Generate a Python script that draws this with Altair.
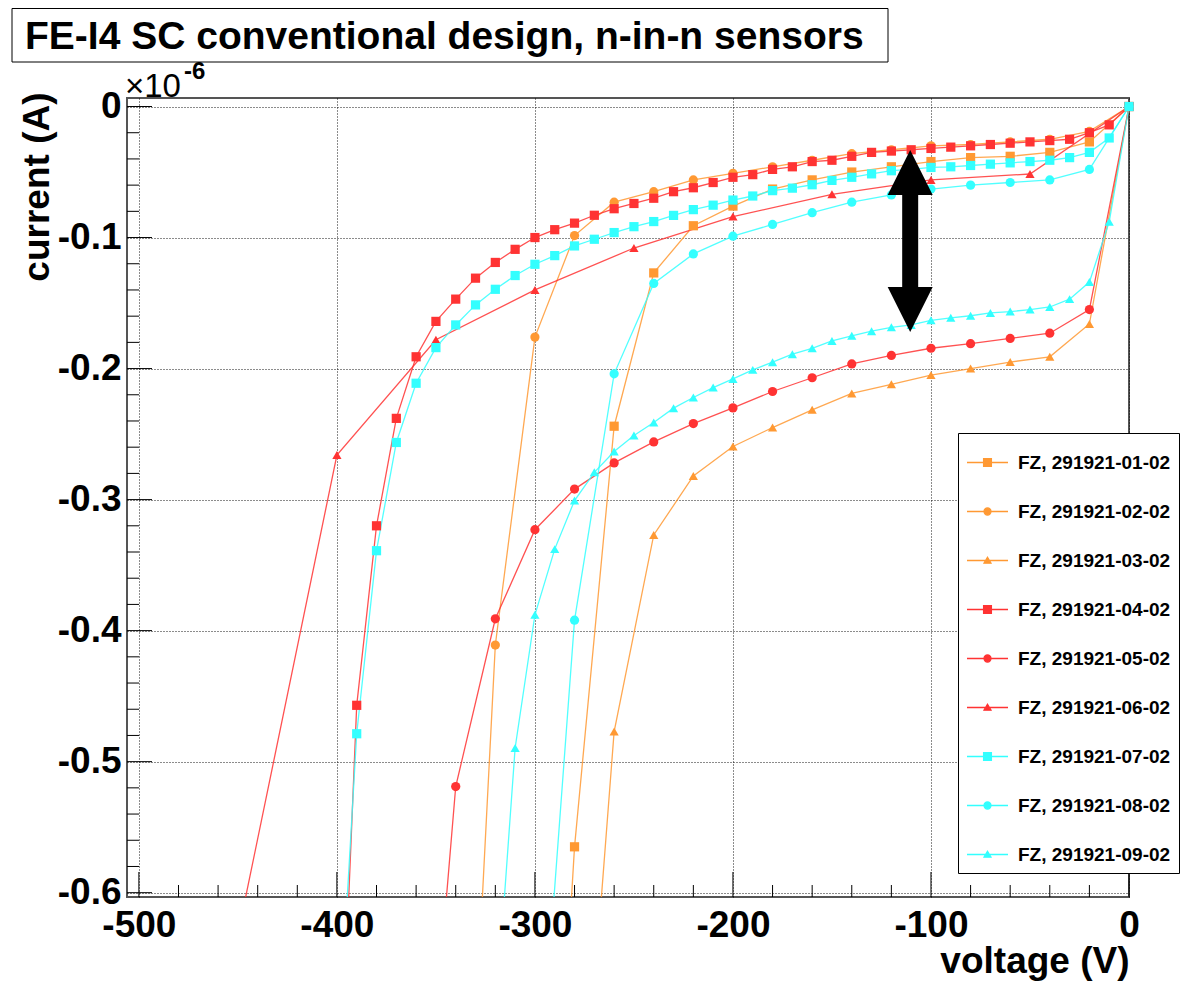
import altair as alt
import pandas as pd

# ---------------- data (voltage in V, current in 1e-6 A) ----------------
labels = ["FZ, 291921-01-02", "FZ, 291921-02-02", "FZ, 291921-03-02",
          "FZ, 291921-04-02", "FZ, 291921-05-02", "FZ, 291921-06-02",
          "FZ, 291921-07-02", "FZ, 291921-08-02", "FZ, 291921-09-02"]

v01 = [0, -20, -40, -60, -80, -100, -120, -140, -160, -180, -200, -220, -240, -260, -280, -300]
i01 = [0, -0.027, -0.035, -0.038, -0.039, -0.042, -0.046, -0.050, -0.056, -0.063, -0.076, -0.091,
       -0.127, -0.244, -0.565, -1.07]

v02 = [0, -20, -40, -60, -80, -100, -120, -140, -160, -180, -200, -220, -240, -260, -280, -300,
       -320, -340]
i02 = [0, -0.019, -0.025, -0.027, -0.029, -0.030, -0.033, -0.036, -0.041, -0.046, -0.051, -0.056,
       -0.065, -0.073, -0.0985, -0.176, -0.411, -1.0]

v03 = [0, -20, -40, -60, -80, -100, -120, -140, -160, -180, -200, -220, -240, -260, -280]
i03 = [0, -0.166, -0.191, -0.195, -0.200, -0.205, -0.212, -0.219, -0.2315, -0.245, -0.2595, -0.282,
       -0.327, -0.477, -0.87]

v04 = [0, -10, -20, -30, -40, -50, -60, -70, -80, -90, -100, -110, -120, -130, -140, -150, -160,
       -170, -180, -190, -200, -210, -220, -230, -240, -250, -260, -270, -280, -290, -300, -310,
       -320, -330, -340, -350, -360, -370, -380, -390, -400]
i04 = [0, -0.014, -0.020, -0.025, -0.026, -0.027, -0.028, -0.029, -0.030, -0.031, -0.032, -0.033,
       -0.034, -0.035, -0.038, -0.041, -0.042, -0.046, -0.048, -0.052, -0.054, -0.058, -0.062,
       -0.065, -0.070, -0.074, -0.078, -0.083, -0.089, -0.094, -0.100, -0.109, -0.119, -0.131,
       -0.147, -0.164, -0.191, -0.238, -0.320, -0.457, -0.82]

v05 = [0, -20, -40, -60, -80, -100, -120, -140, -160, -180, -200, -220, -240, -260, -280, -300,
       -320, -340, -360]
i05 = [0, -0.155, -0.173, -0.177, -0.181, -0.1845, -0.190, -0.1965, -0.207, -0.2175, -0.230, -0.242,
       -0.256, -0.272, -0.292, -0.323, -0.391, -0.519, -0.88]

v06 = [0, -50, -100, -150, -200, -250, -300, -350, -400, -450]
i06 = [0, -0.0515, -0.056, -0.067, -0.084, -0.108, -0.140, -0.178, -0.266, -0.632]

v07 = [0, -10, -20, -30, -40, -50, -60, -70, -80, -90, -100, -110, -120, -130, -140, -150, -160,
       -170, -180, -190, -200, -210, -220, -230, -240, -250, -260, -270, -280, -290, -300, -310,
       -320, -330, -340, -350, -360, -370, -380, -390, -400]
i07 = [0, -0.024, -0.035, -0.039, -0.041, -0.042, -0.043, -0.044, -0.045, -0.046, -0.0465, -0.048,
       -0.049, -0.0514, -0.054, -0.0564, -0.0597, -0.0623, -0.0642, -0.0683, -0.0714, -0.0753,
       -0.0787, -0.0831, -0.0878, -0.0917, -0.0962, -0.1013, -0.1064, -0.1138, -0.1204, -0.129,
       -0.1395, -0.1514, -0.1667, -0.184, -0.2112, -0.2564, -0.339, -0.4787, -0.74]

v08 = [0, -20, -40, -60, -80, -100, -120, -140, -160, -180, -200, -220, -240, -260, -280, -300]
i08 = [0, -0.048, -0.056, -0.058, -0.060, -0.063, -0.0675, -0.073, -0.081, -0.090, -0.099, -0.1125,
       -0.135, -0.204, -0.392, -0.80]

v09 = [0, -10, -20, -30, -40, -50, -60, -70, -80, -90, -100, -110, -120, -130, -140, -150, -160,
       -170, -180, -190, -200, -210, -220, -230, -240, -250, -260, -270, -280, -290, -300, -310, -320]
i09 = [0, -0.088, -0.134, -0.147, -0.153, -0.155, -0.1565, -0.1575, -0.1597, -0.1613, -0.1632,
       -0.1667, -0.1685, -0.1715, -0.175, -0.1789, -0.1845, -0.189, -0.1951, -0.201, -0.2079,
       -0.2145, -0.2221, -0.2302, -0.2412, -0.2511, -0.2633, -0.2792, -0.3007, -0.3378, -0.3879,
       -0.4896, -0.70]

# annotation arrow (voltage, current of the two heads)
arrow_v = [-110.5]
arrow_top = [-0.0504]
arrow_bottom = [-0.1549]

x_major = [-500, -400, -300, -200, -100, 0]
y_major = [-0.6, -0.5, -0.4, -0.3, -0.2, -0.1, 0]
x_minor = [-480, -460, -440, -420, -380, -360, -340, -320, -280, -260, -240, -220,
           -180, -160, -140, -120, -80, -60, -40, -20]
y_minor = [-0.58, -0.56, -0.54, -0.52, -0.48, -0.46, -0.44, -0.42, -0.38, -0.36, -0.34, -0.32,
           -0.28, -0.26, -0.24, -0.22, -0.18, -0.16, -0.14, -0.12, -0.08, -0.06, -0.04, -0.02]

title_text = "FE-I4 SC conventional design, n-in-n sensors"

# ---------------- styles ----------------
ORANGE, RED, CYAN = "#ff9933", "#ff3333", "#33ffff"
colors = [ORANGE] * 3 + [RED] * 3 + [CYAN] * 3
shapes = ["square", "circle", "triangle-up"] * 3
leg_sq = "M-1,0H1M-0.19,-0.19H0.19V0.19H-0.19Z"
leg_ci = "M-1,0H1M-0.17,0A0.17,0.17,0,1,0,0.17,0A0.17,0.17,0,1,0,-0.17,0Z"
leg_tr = "M-1,0H1M0,-0.16L0.17,0.13L-0.17,0.13Z"
leg_shapes = [leg_sq, leg_ci, leg_tr] * 3
FONT = "Liberation Sans"

W, H = 1002, 799
XMIN, XMAX = -506, 0
YMIN, YMAX = -0.6033, 0.0065

series_x = [v01, v02, v03, v04, v05, v06, v07, v08, v09]
series_y = [i01, i02, i03, i04, i05, i06, i07, i08, i09]
rows = []
for k, (vs, cs) in enumerate(zip(series_x, series_y)):
    assert len(vs) == len(cs), labels[k]
    for j, (v, c) in enumerate(zip(vs, cs)):
        rows.append({"series": labels[k], "V": v, "I": c, "idx": j, "sid": k})
df = pd.DataFrame(rows)

xs = alt.Scale(domain=[XMIN, XMAX], nice=False, zero=False)
ys = alt.Scale(domain=[YMIN, YMAX], nice=False, zero=False)
cscale = alt.Scale(domain=labels, range=colors)

x_axis = alt.Axis(values=x_major, title="voltage (V)", grid=True, gridDash=[1, 2],
                  gridColor="black", gridWidth=1, gridOpacity=0.9, ticks=False, tickSize=0,
                  domain=False, labelFont=FONT, labelFontSize=37, labelFontWeight="bold",
                  labelColor="black", labelPadding=10, labelFlush=False,
                  labelExpr="'' + datum.value",
                  titleFont=FONT, titleFontSize=37, titleFontWeight="bold", titleColor="black",
                  titleAnchor="end", titleAlign="right", titleBaseline="alphabetic",
                  titleX=W, titleY=75)
y_axis = alt.Axis(values=y_major, title="current (A)", grid=True, gridDash=[1, 2],
                  gridColor="black", gridWidth=1, gridOpacity=0.9, ticks=False, tickSize=0,
                  domain=False, labelFont=FONT, labelFontSize=37, labelFontWeight="bold",
                  labelColor="black", labelPadding=6, labelFlush=False,
                  labelExpr="'' + datum.value", labelBaseline="middle",
                  titleFont=FONT, titleFontSize=37, titleFontWeight="bold", titleColor="black",
                  titleAngle=270, titleAlign="right", titleBaseline="alphabetic",
                  titleX=-79, titleY=-6)


def X(field):
    return alt.X(field, scale=xs, axis=x_axis)


def Y(field):
    return alt.Y(field, scale=ys, axis=y_axis)


# ---------------- layers ----------------
xmaj = alt.Chart(pd.DataFrame({"t": x_major})).mark_rule(color="black", strokeWidth=1).encode(
    x=X("t:Q"), y=alt.value(H), y2=alt.value(H - 25))
xmin_ = alt.Chart(pd.DataFrame({"t": x_minor})).mark_rule(color="black", strokeWidth=1).encode(
    x=X("t:Q"), y=alt.value(H), y2=alt.value(H - 12))
ymaj = alt.Chart(pd.DataFrame({"t": y_major})).mark_rule(color="black", strokeWidth=1).encode(
    y=Y("t:Q"), x=alt.value(0), x2=alt.value(25))
ymin_ = alt.Chart(pd.DataFrame({"t": y_minor})).mark_rule(color="black", strokeWidth=1).encode(
    y=Y("t:Q"), x=alt.value(0), x2=alt.value(12))

lines = alt.Chart(df).mark_line(clip=True, strokeWidth=1.3, opacity=0.85).encode(
    x=X("V:Q"), y=Y("I:Q"),
    color=alt.Color("series:N", scale=cscale, legend=None),
    order=alt.Order("idx:Q"),
)

points = alt.Chart(df).transform_filter(alt.datum.I >= YMIN).mark_point(
    filled=True, size=85, opacity=1).encode(
    x=X("V:Q"), y=Y("I:Q"),
    color=alt.Color("series:N", scale=cscale, legend=None),
    shape=alt.Shape("series:N", scale=alt.Scale(domain=labels, range=shapes), legend=None),
)

adf = pd.DataFrame({"V": arrow_v, "top": arrow_top, "bot": arrow_bottom})
shaft = alt.Chart(adf).mark_rule(color="black", strokeWidth=16, strokeCap="butt").encode(
    x=X("V:Q"), y=Y("top:Q"), y2="bot:Q")
head_up = alt.Chart(adf).mark_point(filled=True, color="black", opacity=1, size=2025,
                                    shape="M0,-1L1,1L-1,1Z").encode(x=X("V:Q"), y=Y("top:Q"))
head_dn = alt.Chart(adf).mark_point(filled=True, color="black", opacity=1, size=2025,
                                    shape="M0,1L1,-1L-1,-1Z").encode(x=X("V:Q"), y=Y("bot:Q"))

leg_kw = dict(title=None, orient="none", legendX=831, legendY=335, symbolSize=1681,
              symbolStrokeWidth=1.3, padding=8, rowPadding=17, labelOffset=9,
              strokeColor="black", fillColor="white", labelFont=FONT, labelFontSize=19,
              labelFontWeight="bold", labelColor="black", labelLimit=400, symbolOpacity=1)
legend_layer = alt.Chart(pd.DataFrame({"series": labels})).transform_filter(
    alt.datum.series == "none").mark_point(filled=True).encode(
    fill=alt.Fill("series:N", scale=alt.Scale(domain=labels, range=colors), legend=alt.Legend(**leg_kw)),
    stroke=alt.Stroke("series:N", scale=alt.Scale(domain=labels, range=colors), legend=alt.Legend(**leg_kw)),
    shape=alt.Shape("series:N", scale=alt.Scale(domain=labels, range=leg_shapes), legend=alt.Legend(**leg_kw)),
)

one = pd.DataFrame({"a": [0]})
title_box = alt.Chart(one).mark_rect(fill="white", stroke="black", strokeWidth=1).encode(
    x=alt.value(-115), x2=alt.value(761), y=alt.value(-89.5), y2=alt.value(-36))
title_mark = alt.Chart(one).mark_text(align="left", baseline="alphabetic", font=FONT, fontSize=39,
                                      fontWeight="bold", color="black").encode(
    x=alt.value(-102), y=alt.value(-49), text=alt.value(title_text))
exp_base = alt.Chart(one).mark_text(align="left", baseline="alphabetic", font=FONT, fontSize=33,
                                    color="black").encode(
    x=alt.value(-2), y=alt.value(-1), text=alt.value("×10"))
exp_sup = alt.Chart(one).mark_text(align="left", baseline="alphabetic", font=FONT, fontSize=24,
                                   fontWeight="bold", color="black").encode(
    x=alt.value(57), y=alt.value(-19), text=alt.value("-6"))

chart = alt.layer(
    xmaj, xmin_, ymaj, ymin_, lines, points, shaft, head_up, head_dn, legend_layer,
    title_box, title_mark, exp_base, exp_sup
).resolve_scale(
    color="independent", fill="independent", stroke="independent", shape="independent"
).properties(
    width=W, height=H,
    padding={"left": 119, "top": 90, "right": 51, "bottom": 84},
    autosize=alt.AutoSizeParams(type="none"),
).configure_view(stroke="#555555", strokeWidth=2)

chart.save("out.html", embed_options={"renderer": "svg", "actions": False})
